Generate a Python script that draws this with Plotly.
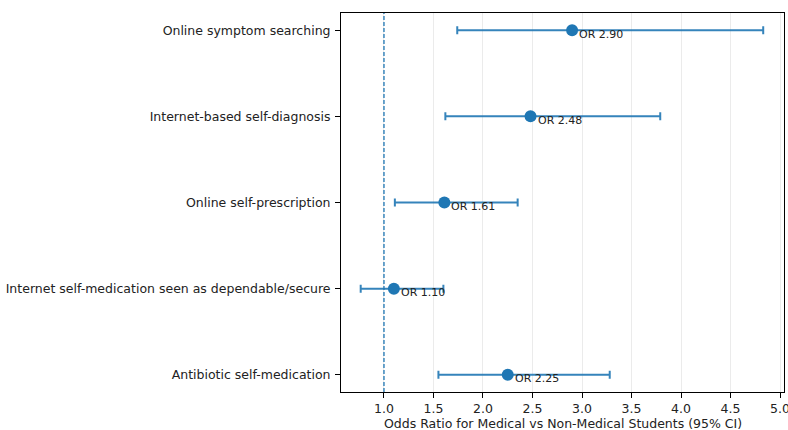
import plotly.graph_objects as go

categories = [
    "Online symptom searching",
    "Internet-based self-diagnosis",
    "Online self-prescription",
    "Internet self-medication seen as dependable/secure",
    "Antibiotic self-medication",
]
odds_ratio = [2.90, 2.48, 1.61, 1.10, 2.25]
ci_low = [1.74, 1.62, 1.11, 0.765, 1.55]
ci_high = [4.83, 3.79, 2.35, 1.60, 3.28]
x_ticks = [1.0, 1.5, 2.0, 2.5, 3.0, 3.5, 4.0, 4.5, 5.0]
x_title = "Odds Ratio for Medical vs Non-Medical Students (95% CI)"

ypos = list(range(len(categories)))
blue = "#1f77b4"
font = "DejaVu Sans"

fig = go.Figure()
fig.add_trace(go.Scatter(
    x=odds_ratio, y=ypos, mode="markers",
    marker=dict(color=blue, size=12),
    error_x=dict(type="data", symmetric=False,
                 array=[h - o for h, o in zip(ci_high, odds_ratio)],
                 arrayminus=[o - l for o, l in zip(odds_ratio, ci_low)],
                 color="rgba(31,119,180,0.9)", thickness=2, width=4),
    showlegend=False, hoverinfo="skip",
    cliponaxis=False,
))

fig.add_shape(type="line", x0=1.0, x1=1.0, y0=0, y1=1, xref="x", yref="paper",
              line=dict(color=blue, width=1.3, dash="4px,2px"), layer="above")

for o, y in zip(odds_ratio, ypos):
    fig.add_annotation(x=o, y=y, text=f"OR {o:.2f}", showarrow=False,
                       xanchor="left", yanchor="middle", xshift=5, yshift=-4,
                       font=dict(family=font, size=11, color="#222"))

# x-axis title
fig.add_annotation(x=0.5, y=0, xref="paper", yref="paper", text=x_title,
                   showarrow=False, xanchor="center", yanchor="middle", yshift=-31,
                   font=dict(family=font, size=12.5, color="#222"))

fig.update_layout(
    width=788, height=430,
    margin=dict(l=341, r=4, t=13, b=38, autoexpand=False),
    paper_bgcolor="white", plot_bgcolor="white",
    font=dict(family=font, size=12.5, color="#222"),
    xaxis=dict(range=[0.566, 5.04], tickvals=x_ticks,
               ticktext=[f"{v:.1f}" for v in x_ticks], automargin=False,
               ticklabeloverflow="allow",
               showgrid=True, gridcolor="#ebebeb", gridwidth=1,
               zeroline=False, showline=True, linecolor="black", linewidth=1,
               mirror=True, ticks="outside", ticklen=5, tickcolor="black",
               ticklabelstandoff=0),
    yaxis=dict(range=[4.2, -0.2], tickvals=ypos, ticktext=categories, automargin=False,
               showgrid=False, zeroline=False, showline=True, linecolor="black",
               linewidth=1, mirror=True, ticks="outside", ticklen=5, tickcolor="black",
               ticklabelstandoff=2),
)

# remove the page's default body margin so the 788x430 figure fills the window exactly
fig.write_html("out.html",
               config={"displayModeBar": False},
               post_script="document.body.style.margin='0';document.body.style.overflow='hidden';")
